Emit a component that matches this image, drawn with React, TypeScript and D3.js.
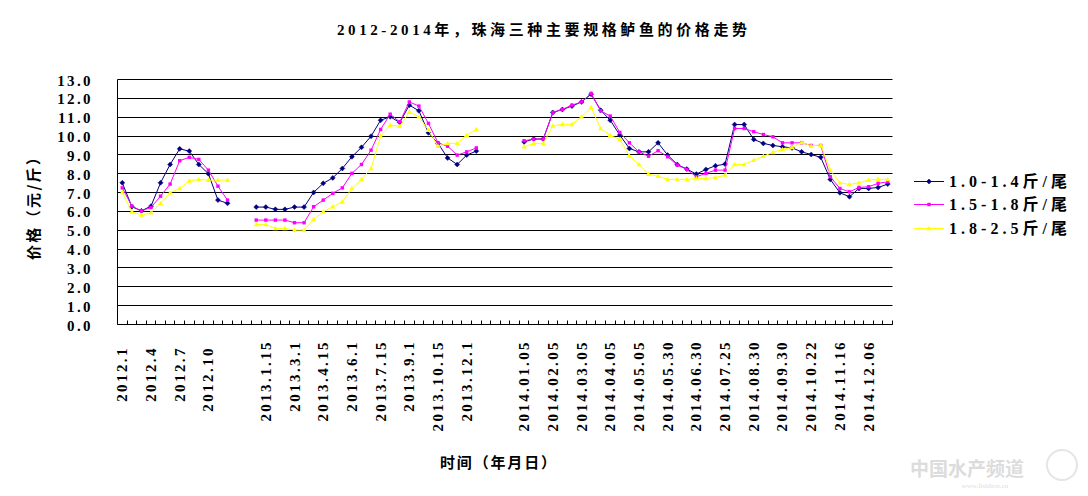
import React from 'react';
import * as d3 from 'd3';

// ---------- categories ----------
const categories2012 = ['2012.1 ', '2012.2 ', '2012.3 ', '2012.4 ', '2012.5 ', '2012.6 ', '2012.7 ', '2012.8 ', '2012.9 ', '2012.10 ', '2012.11 ', '2012.12 '];
const gapA = ['', ''];
const categories2013 = ['2013.1.1', '2013.1.15', '2013.2.1', '2013.2.15', '2013.3.1', '2013.3.15', '2013.4.1', '2013.4.15', '2013.5.1', '2013.5.15', '2013.6.1', '2013.6.15', '2013.7.1', '2013.7.15', '2013.8.1', '2013.8.15', '2013.9.1', '2013.9.15', '2013.10.1', '2013.10.15', '2013.11.1', '2013.11.15', '2013.12.1', '2013.12.15'];
const gapB = ['', '', '', ''];
const categories2014 = ['2014.01.05', '2014.01.15', '2014.01.25', '2014.02.05', '2014.02.15', '2014.02.25', '2014.03.05', '2014.03.15', '2014.03.25', '2014.04.05', '2014.04.15', '2014.04.25', '2014.05.05', '2014.05.15', '2014.05.20', '2014.05.30', '2014.06.10', '2014.06.20', '2014.06.30', '2014.07.10', '2014.07.18', '2014.07.25', '2014.08.10', '2014.08.20', '2014.08.30', '2014.09.10', '2014.09.20', '2014.09.30', '2014.10.08', '2014.10.15', '2014.10.22', '2014.10.30', '2014.11.08', '2014.11.16', '2014.11.23', '2014.11.30', '2014.12.06', '2014.12.13', '2014.12.20'];

// ---------- series values (元/斤) ----------
const small2012 = [7.52, 6.25, 6.03, 6.28, 7.52, 8.49, 9.32, 9.2, 8.49, 8.0, 6.6, 6.43];
const small2013 = [6.23, 6.23, 6.11, 6.11, 6.23, 6.23, 7.01, 7.49, 7.78, 8.28, 8.9, 9.4, 9.99, 10.84, 11.02, 10.72, 11.64, 11.34, 10.17, 9.61, 8.84, 8.49, 8.99, 9.2];
const small2014 = [9.69, 9.84, 9.84, 11.25, 11.41, 11.59, 11.81, 12.22, 11.37, 10.84, 10.05, 9.34, 9.16, 9.16, 9.64, 8.99, 8.49, 8.25, 7.98, 8.23, 8.42, 8.51, 10.61, 10.61, 9.82, 9.61, 9.5, 9.43, 9.37, 9.16, 9.02, 8.87, 7.7, 6.99, 6.78, 7.22, 7.22, 7.27, 7.45];

const medium2012 = [7.25, 6.28, 6.03, 6.21, 6.81, 7.45, 8.69, 8.87, 8.76, 8.19, 7.34, 6.6];
const medium2013 = [5.54, 5.54, 5.54, 5.54, 5.4, 5.4, 6.25, 6.6, 6.96, 7.25, 8.02, 8.49, 9.25, 10.35, 11.16, 10.75, 11.81, 11.59, 10.67, 9.64, 9.46, 8.99, 9.16, 9.37];
const medium2014 = [9.75, 9.84, 9.84, 11.25, 11.41, 11.64, 11.81, 12.26, 11.34, 11.06, 10.19, 9.64, 9.16, 8.93, 9.22, 8.9, 8.46, 8.23, 7.84, 8.02, 8.19, 8.19, 10.4, 10.4, 10.23, 10.08, 9.96, 9.64, 9.64, 9.64, 9.5, 9.5, 7.84, 7.22, 7.04, 7.27, 7.31, 7.49, 7.57];

const large2012 = [7.01, 5.98, 5.81, 5.93, 6.43, 6.99, 7.22, 7.62, 7.7, 7.66, 7.66, 7.66];
const large2013 = [5.31, 5.31, 5.1, 5.1, 5.01, 5.01, 5.58, 5.98, 6.25, 6.51, 7.22, 7.7, 8.28, 9.99, 10.58, 10.52, 11.28, 11.02, 10.31, 9.46, 9.61, 9.61, 10.05, 10.35];
const large2014 = [9.43, 9.61, 9.61, 10.54, 10.62, 10.62, 11.02, 11.52, 10.4, 10.03, 9.82, 8.95, 8.49, 7.98, 7.87, 7.7, 7.7, 7.7, 7.75, 7.75, 7.8, 7.93, 8.49, 8.49, 8.72, 8.93, 9.13, 9.29, 9.4, 9.66, 9.48, 9.52, 8.19, 7.52, 7.43, 7.52, 7.66, 7.71, 7.69];

const seriesNames = ['1.0-1.4斤/尾', '1.5-1.8斤/尾', '1.8-2.5斤/尾'];
const seriesColors = ['#000080', '#FF00FF', '#FFFF00'];
const yTicks = [0, 1, 2, 3, 4, 5, 6, 7, 8, 9, 10, 11, 12, 13];

const title = '2012-2014年，珠海三种主要规格鲈鱼的价格走势';
const yTitle = '价格（元/斤）';
const xTitle = '时间（年月日）';

const categories = [...categories2012, ...gapA, ...categories2013, ...gapB, ...categories2014];
const nulls = (a: string[]) => a.map(() => null as number | null);
const join = (a: number[], b: number[], c: number[]) => [...a, ...nulls(gapA), ...b, ...nulls(gapB), ...c] as (number | null)[];
const seriesValues = [
  join(small2012, small2013, small2014),
  join(medium2012, medium2013, medium2014),
  join(large2012, large2013, large2014),
];

const W = 1088, H = 496;
const left = 117.5, right = 892.5, top = 79.5, bottom = 324.5;
const SERIF = '"Liberation Serif", "Noto Sans CJK SC", serif';
const CJK = '"Noto Sans CJK SC", "Liberation Serif", sans-serif';

function Marker({ kind, x, y, color }: { kind: number; x: number; y: number; color: string }) {
  if (kind === 0) {
    const s = 2.5;
    return <path d={`M${x},${y - s}L${x + s},${y}L${x},${y + s}L${x - s},${y}Z`} fill={color} stroke={color} strokeWidth={0.5} />;
  }
  if (kind === 1) {
    return <rect x={x - 1.7} y={y - 1.7} width={3.4} height={3.4} fill={color} />;
  }
  return <path d={`M${x},${y - 2.6}L${x + 2.6},${y + 1.8}L${x - 2.6},${y + 1.8}Z`} fill={color} />;
}

export default function App() {
  const x = d3.scaleBand<number>().domain(d3.range(categories.length)).range([left, right]).paddingInner(0).paddingOuter(0);
  const bw = x.bandwidth();
  const y = d3.scaleLinear().domain([0, 13]).range([bottom, top]);
  const cx = (i: number) => (x(i) as number) + bw / 2;
  const snap = (v: number) => Math.round(v - 0.5) + 0.5;

  const line = d3.line<number | null>()
    .defined((d) => d != null)
    .x((_, i) => cx(i))
    .y((d) => y(d as number));

  return (
    <svg width={W} height={H} style={{ position: 'absolute', left: 0, top: 0, background: '#fff' }}>
      <rect x={0} y={0} width={W} height={H} fill="#fff" />
      {/* title */}
      <text x={W / 2 - 2} y={35} textAnchor="middle" fontFamily={SERIF} fontWeight="bold" fontSize={15}
        textLength={410} lengthAdjust="spacing">{title}</text>

      {/* gridlines */}
      {yTicks.map((t) => (
        <line key={t} x1={left} x2={right} y1={snap(y(t))} y2={snap(y(t))} stroke="#000" strokeWidth={1} />
      ))}
      {/* axes */}
      <line x1={left} x2={left} y1={snap(y(13))} y2={snap(y(0))} stroke="#000" />
      <line x1={left} x2={right} y1={snap(y(0))} y2={snap(y(0))} stroke="#000" />
      {categories.map((_, i) => {
        const xx = snap((x(i) as number) + bw);
        return <line key={i} x1={xx} x2={xx} y1={snap(y(0))} y2={snap(y(0)) - 4} stroke="#000" />;
      })}

      {/* y tick labels */}
      {yTicks.map((t) => (
        <text key={t} x={93} y={y(t) + 6} textAnchor="end" fontFamily={SERIF} fontWeight="bold" fontSize={15} letterSpacing={2.4}>
          {t.toFixed(1)}
        </text>
      ))}
      {/* y title */}
      <text transform={`translate(39,${205}) rotate(-90)`} textAnchor="middle" fontFamily={CJK} fontWeight="bold" fontSize={15}
        textLength={110} lengthAdjust="spacing">{yTitle}</text>

      {/* x tick labels */}
      {categories.map((c, i) =>
        i % 3 === 0 && c.trim() !== '' ? (
          <text key={i} transform={`translate(${cx(i) + 5},340) rotate(-90)`} textAnchor="end" fontFamily={SERIF}
            fontWeight="bold" fontSize={15} letterSpacing={2.4} style={{ whiteSpace: 'pre' }}>{c}</text>
        ) : null
      )}
      {/* x title */}
      <text x={498} y={468} textAnchor="middle" fontFamily={CJK} fontWeight="bold" fontSize={15}
        textLength={116} lengthAdjust="spacing">{xTitle}</text>

      {/* series */}
      {seriesValues.map((vals, s) => (
        <g key={s}>
          <path d={line(vals) || ''} fill="none" stroke={seriesColors[s]} strokeWidth={1} />
          {vals.map((v, i) => (v == null ? null : <Marker key={i} kind={s} x={cx(i)} y={y(v)} color={seriesColors[s]} />))}
        </g>
      ))}

      {/* legend */}
      {seriesNames.map((n, s) => {
        const ly = [181, 204, 228][s];
        return (
          <g key={n}>
            <line x1={914} x2={944} y1={ly + 0.5} y2={ly + 0.5} stroke={seriesColors[s]} strokeWidth={1} />
            <Marker kind={s} x={929} y={ly + 0.5} color={seriesColors[s]} />
            <text x={949} y={ly + 6} fontFamily={SERIF} fontWeight="bold" fontSize={16}
              textLength={118} lengthAdjust="spacing">{n}</text>
          </g>
        );
      })}

      {/* watermark */}
      <g opacity={0.5}>
        <text x={910} y={476} fontFamily={CJK} fontSize={19} fontWeight="bold" fill="#bbb">中国水产频道</text>
        <circle cx={1062} cy={465} r={15} fill="none" stroke="#ccc" strokeWidth={2} />
        <text x={985} y={488} fontFamily={SERIF} fontSize={7} fill="#bbb" textAnchor="middle">www.fishfirst.cn</text>
      </g>
    </svg>
  );
}
